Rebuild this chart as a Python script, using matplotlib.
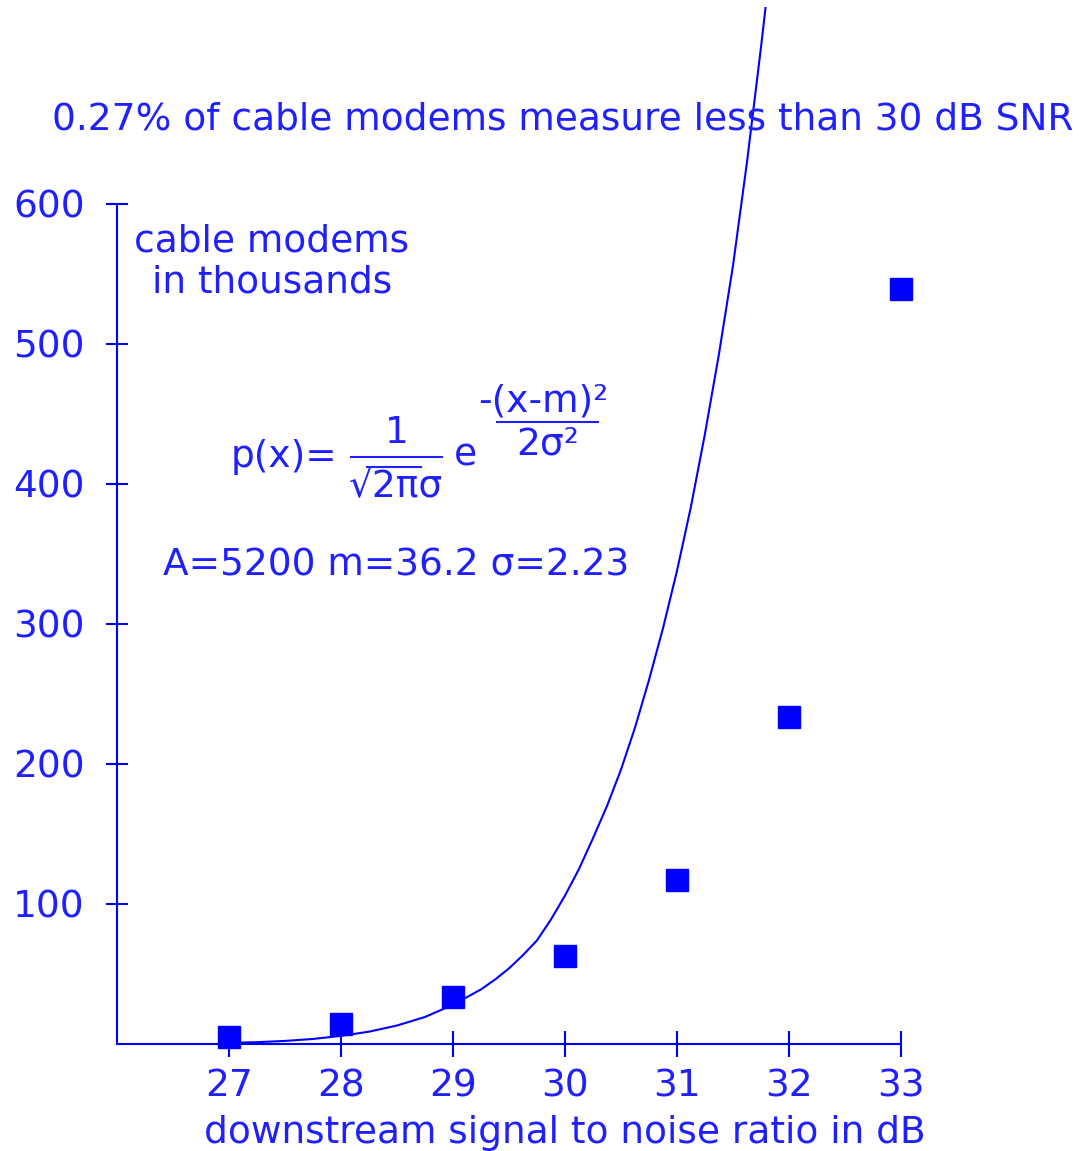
import matplotlib
matplotlib.use('Agg')
import matplotlib.pyplot as plt
from matplotlib.lines import Line2D

# ---------------- data ----------------
snr_db = [27, 28, 29, 30, 31, 32, 33]
modems_k = [5, 14.5, 33.5, 63, 117, 233.5, 539]

# fitted curve
fit_x = [27.0, 27.25, 27.5, 27.75, 28.0, 28.25, 28.5, 28.75, 29.0, 29.25, 29.375,
         29.5, 29.625, 29.75, 29.875, 30.0, 30.125, 30.25, 30.375, 30.5, 30.625,
         30.75, 30.875, 31.0, 31.125, 31.25, 31.375, 31.5, 31.625, 31.75, 31.79]
fit_y = [0.8, 1.3, 2.2, 3.6, 5.8, 8.8, 13.2, 19.3, 28.0, 39.0, 46.0,
         54.0, 63.5, 74.0, 89.0, 106.0, 125.0, 147.0, 170.0, 196.0, 226.0,
         260.0, 297.0, 338.0, 384.0, 436.0, 493.0, 556.0, 630.0, 712.0, 740.0]

x_ticks = [27, 28, 29, 30, 31, 32, 33]
y_ticks = [100, 200, 300, 400, 500, 600]

title = "0.27% of cable modems measure less than 30 dB SNR"
x_label = "downstream signal to noise ratio in dB"
y_label = "cable modems\nin thousands"
params = "A=5200 m=36.2 σ=2.23"

# ---------------- style ----------------
W, H = 1087, 1151
BLUE = '#0000ff'
TXT = '#2020ff'
FS = 27

plt.rcParams['font.family'] = ['DejaVu Sans']


def fx(x):
    return x / W


def fy(y):
    return 1 - y / H


fig = plt.figure(figsize=(W / 100, H / 100), dpi=100)
ax = fig.add_axes([fx(117), fy(1044), (901 - 117) / W, (1044 - 204) / H])
ax.patch.set_visible(False)
ax.set_xlim(26, 33)
ax.set_ylim(0, 600)

ax.plot(fit_x, fit_y, color=BLUE, lw=1.5, clip_on=False, zorder=2,
        solid_joinstyle='round')
ax.plot(snr_db, modems_k, 's', ms=16.5, color=BLUE, mec=BLUE, clip_on=False, zorder=3)

for s in ['top', 'right']:
    ax.spines[s].set_visible(False)
for s in ['left', 'bottom']:
    ax.spines[s].set_color(BLUE)
    ax.spines[s].set_linewidth(1.5)

ax.set_xticks(x_ticks)
ax.set_yticks(y_ticks)
ax.tick_params(axis='x', direction='inout', length=18.7, width=1.5, color=BLUE,
               labelcolor=TXT, labelsize=FS, pad=8)
ax.tick_params(axis='y', direction='inout', length=16.5, width=1.5, color=BLUE,
               labelcolor=TXT, labelsize=FS, pad=15)

# texts
fig.text(fx(52), fy(130), title, ha='left', va='baseline', fontsize=FS, color=TXT)
fig.text(fx(564.5), fy(1143), x_label, ha='center', va='baseline', fontsize=FS, color=TXT)
fig.text(fx(272), fy(262), y_label, ha='center', va='center', fontsize=FS, color=TXT,
         linespacing=1.15, multialignment='center')
fig.text(fx(163), fy(576), params, ha='left', va='baseline', fontsize=FS, color=TXT)

# formula
fig.text(fx(231), fy(467), "p(x)=", ha='left', va='baseline', fontsize=FS, color=TXT)
fig.text(fx(397), fy(443), "1", ha='center', va='baseline', fontsize=FS, color=TXT)
fig.text(fx(396), fy(497), "√2πσ", ha='center', va='baseline', fontsize=FS, color=TXT)
fig.text(fx(465), fy(466), "e", ha='center', va='baseline', fontsize=FS, color=TXT)
fig.text(fx(543), fy(412), "-(x-m)²", ha='center', va='baseline', fontsize=FS, color=TXT)
fig.text(fx(548), fy(455), "2σ²", ha='center', va='baseline', fontsize=FS, color=TXT)
for (x0, x1, y) in [(351, 442, 457), (497, 598, 422), (367, 421, 467)]:
    fig.add_artist(Line2D([fx(x0), fx(x1)], [fy(y), fy(y)], color=TXT, lw=1.5,
                          transform=fig.transFigure))

fig.savefig('out.png', dpi=100)
